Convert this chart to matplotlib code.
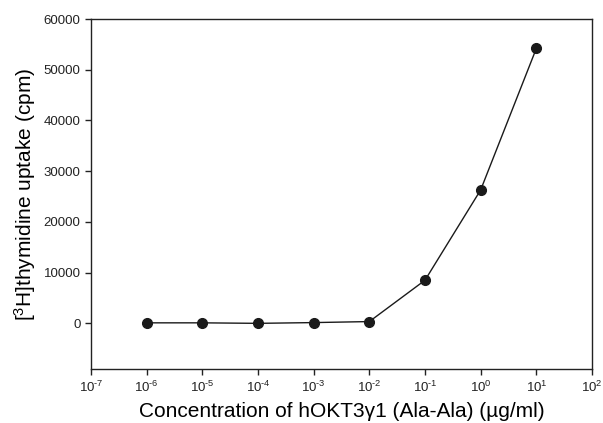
import math
import matplotlib
matplotlib.use("Agg")
import matplotlib.pyplot as plt
from matplotlib.ticker import FixedLocator, FuncFormatter, NullLocator

plt.rcParams['font.family'] = ['Liberation Sans', 'DejaVu Sans']
plt.rcParams['mathtext.fontset'] = 'custom'
plt.rcParams['mathtext.rm'] = 'Liberation Sans'
plt.rcParams['mathtext.it'] = 'Liberation Sans:italic'

# data
concentration = [1e-6, 1e-5, 1e-4, 1e-3, 1e-2, 1e-1, 1e0, 1e1]
uptake = [100, 100, 0, 150, 350, 8500, 26300, 54200]
x_ticks = [1e-7, 1e-6, 1e-5, 1e-4, 1e-3, 1e-2, 1e-1, 1e0, 1e1, 1e2]
y_ticks = [0, 10000, 20000, 30000, 40000, 50000, 60000]


def pow10(v, pos):
    e = round(math.log10(v))
    s = str(e).replace('-', '\u2010')
    return r'$\mathregular{10^{%s}}$' % s


fig = plt.figure(figsize=(6.03, 4.23), dpi=100)
ax = fig.add_axes([91 / 603, 1 - 369 / 423, (592 - 91) / 603, (369 - 19) / 423])

ax.plot(concentration, uptake, color='#1a1a1a', linewidth=1.0,
        marker='o', markersize=7, markerfacecolor='#1a1a1a', markeredgecolor='#1a1a1a')

ax.set_xscale('log')
ax.set_xlim(1e-7, 1e2)
ax.set_ylim(-9000, 60000)
ax.xaxis.set_major_locator(FixedLocator(x_ticks))
ax.xaxis.set_minor_locator(NullLocator())
ax.xaxis.set_major_formatter(FuncFormatter(pow10))
ax.set_yticks(y_ticks)

for s in ax.spines.values():
    s.set_linewidth(1.0)
    s.set_color('#222222')
ax.tick_params(direction='out', length=4, width=1.0, labelsize=9.5, colors='#222222')
ax.tick_params(axis='x', pad=4)

ax.set_xlabel('Concentration of hOKT3\u03b31 (Ala-Ala) (\u00b5g/ml)', fontsize=15, labelpad=5)
ax.set_ylabel(r'[$\mathregular{^3}$H]thymidine uptake (cpm)', fontsize=15, labelpad=4)

fig.savefig('out.png', dpi=100)
